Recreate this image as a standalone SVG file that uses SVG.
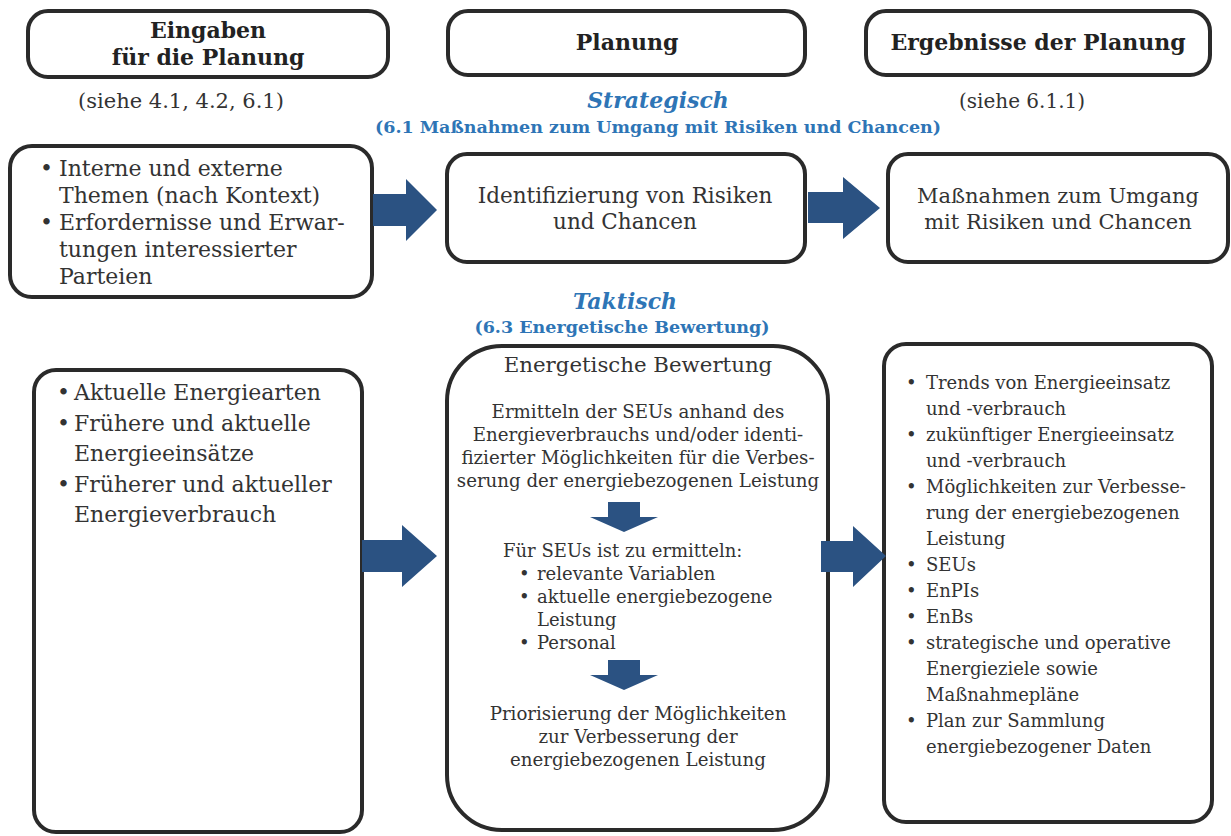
<svg xmlns="http://www.w3.org/2000/svg" width="1231" height="836" viewBox="0 0 1231 836">
<style>
.box{fill:#fff;stroke:#2a2a2a;stroke-width:4}
.arr{fill:#2b5282}
.hd{font-family:"DejaVu Serif",serif;font-weight:bold;font-size:22px;fill:#222;text-anchor:middle}
.t{font-family:"DejaVu Serif",serif;fill:#333}
.blue{font-family:"DejaVu Serif",serif;font-weight:bold;fill:#2e75b6;text-anchor:middle}
.c{text-anchor:middle}
</style>
<rect width="1231" height="836" fill="#fff"/>
<g id="hdr-eingaben">
<rect class="box" x="28" y="11" width="360" height="66" rx="20"/>
<text class="hd" x="208" y="38">Eingaben</text>
<text class="hd" x="208" y="65">für die Planung</text>
</g>
<g id="hdr-planung">
<rect class="box" x="448" y="11" width="357" height="64" rx="20"/>
<text class="hd" x="627" y="50">Planung</text>
</g>
<g id="hdr-ergebnisse">
<rect class="box" x="866" y="11" width="344" height="64" rx="20"/>
<text class="hd" x="1038" y="50">Ergebnisse der Planung</text>
</g>
<g id="labels">
<text class="t c" x="181" y="108" font-size="21">(siehe 4.1, 4.2, 6.1)</text>
<text class="t c" x="1022" y="108" font-size="20">(siehe 6.1.1)</text>
<text class="blue" x="658" y="108" font-size="22" font-style="italic">Strategisch</text>
<text class="blue" x="658" y="133" font-size="17.5">(6.1 Maßnahmen zum Umgang mit Risiken und Chancen)</text>
<text class="blue" x="625" y="309" font-size="22" font-style="italic">Taktisch</text>
<text class="blue" x="622" y="333" font-size="17.5">(6.3 Energetische Bewertung)</text>
</g>
<g id="strat-inputs">
<rect class="box" x="10" y="146" width="362" height="151" rx="22"/>
<g class="t" font-size="22">
<text x="40" y="176">•</text><text x="59" y="176">Interne und externe</text>
<text x="59" y="203">Themen (nach Kontext)</text>
<text x="40" y="230">•</text><text x="59" y="230">Erfordernisse und Erwar-</text>
<text x="59" y="257">tungen interessierter</text>
<text x="59" y="284">Parteien</text>
</g>
</g>
<g id="strat-plan">
<rect class="box" x="447" y="154" width="358" height="108" rx="20"/>
<g class="t c" font-size="21.5">
<text x="625" y="203">Identifizierung von Risiken</text>
<text x="625" y="229">und Chancen</text>
</g>
</g>
<g id="strat-result">
<rect class="box" x="888" y="154" width="340" height="108" rx="20"/>
<g class="t c" font-size="21">
<text x="1058" y="203">Maßnahmen zum Umgang</text>
<text x="1058" y="229">mit Risiken und Chancen</text>
</g>
</g>
<g id="takt-inputs">
<rect class="box" x="34" y="370" width="328" height="462" rx="22"/>
<g class="t" font-size="22">
<text x="57" y="400">•</text><text x="74" y="400">Aktuelle Energiearten</text>
<text x="57" y="431">•</text><text x="74" y="431">Frühere und aktuelle</text>
<text x="74" y="461">Energieeinsätze</text>
<text x="57" y="492">•</text><text x="74" y="492">Früherer und aktueller</text>
<text x="74" y="522">Energieverbrauch</text>
</g>
</g>
<g id="takt-plan">
<rect class="box" x="447" y="346" width="381" height="484" rx="55"/>
<text class="t c" x="638" y="372" font-size="21.3">Energetische Bewertung</text>
<g class="t c" font-size="18.2">
<text x="638" y="418">Ermitteln der SEUs anhand des</text>
<text x="638" y="441">Energieverbrauchs und/oder identi-</text>
<text x="638" y="464">fizierter Möglichkeiten für die Verbes-</text>
<text x="638" y="487">serung der energiebezogenen Leistung</text>
</g>
<g class="t" font-size="18">
<text x="503" y="557">Für SEUs ist zu ermitteln:</text>
<text x="519" y="580">•</text><text x="537" y="580">relevante Variablen</text>
<text x="519" y="603">•</text><text x="537" y="603">aktuelle energiebezogene</text>
<text x="537" y="626">Leistung</text>
<text x="519" y="649">•</text><text x="537" y="649">Personal</text>
</g>
<g class="t c" font-size="18.2">
<text x="638" y="720">Priorisierung der Möglichkeiten</text>
<text x="638" y="743">zur Verbesserung der</text>
<text x="638" y="766">energiebezogenen Leistung</text>
</g>
</g>
<g id="takt-result">
<rect class="box" x="884" y="344" width="328" height="478" rx="22"/>
<g class="t" font-size="18">
<text x="906" y="389">•</text><text x="926" y="389">Trends von Energieeinsatz</text>
<text x="926" y="415">und -verbrauch</text>
<text x="906" y="441">•</text><text x="926" y="441">zukünftiger Energieeinsatz</text>
<text x="926" y="467">und -verbrauch</text>
<text x="906" y="493">•</text><text x="926" y="493">Möglichkeiten zur Verbesse-</text>
<text x="926" y="519">rung der energiebezogenen</text>
<text x="926" y="545">Leistung</text>
<text x="906" y="571">•</text><text x="926" y="571">SEUs</text>
<text x="906" y="597">•</text><text x="926" y="597">EnPIs</text>
<text x="906" y="623">•</text><text x="926" y="623">EnBs</text>
<text x="906" y="649">•</text><text x="926" y="649">strategische und operative</text>
<text x="926" y="675">Energieziele sowie</text>
<text x="926" y="701">Maßnahmepläne</text>
<text x="906" y="727">•</text><text x="926" y="727">Plan zur Sammlung</text>
<text x="926" y="753">energiebezogener Daten</text>
</g>
</g>
<g id="connectors">
<polygon class="arr" points="373,194 406,194 406,179 437,210 406,241 406,226 373,226"/>
<polygon class="arr" points="808,192 843,192 843,177 880,208 843,239 843,223 808,223"/>
<polygon class="arr" points="362,540 402,540 402,525 437,556 402,587 402,572 362,572"/>
<polygon class="arr" points="821,541 853,541 853,526 886,556 853,587 853,572 821,572"/>
<polygon class="arr" points="608,502 640,502 640,517 658,517 624,532 590,517 608,517"/>
<polygon class="arr" points="608,660 640,660 640,675 658,675 624,690 590,675 608,675"/>
</g>
</svg>
